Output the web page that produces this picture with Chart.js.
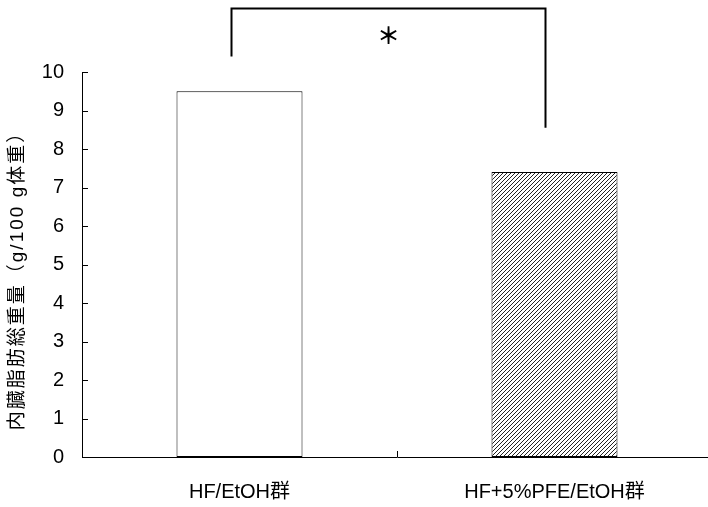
<!DOCTYPE html>
<html>
<head>
<meta charset="utf-8">
<script src="https://cdn.jsdelivr.net/npm/chart.js@4.4.1/dist/chart.umd.min.js"></script>
<style>
  html, body { margin: 0; padding: 0; background: #fff; overflow: hidden; }
  canvas { display: block; }
</style>
</head>
<body>
<canvas id="fatChart" width="712" height="507"></canvas>
<script>
const groups = ['HF/EtOH群', 'HF+5%PFE/EtOH群'];
const fatWeight = [9.5, 7.4];
const yTicks = [0, 1, 2, 3, 4, 5, 6, 7, 8, 9, 10];
const yTitle = '内臓脂肪総重量（g/100 g体重）';
const sigMark = '＊';

const latinFont = '"Liberation Sans", Arial, "Noto Sans CJK JP", sans-serif';

function makeHatch() {
  const c = document.createElement('canvas');
  c.width = 4;
  c.height = 4;
  const g = c.getContext('2d');
  g.fillStyle = '#fff';
  g.fillRect(0, 0, 4, 4);
  g.strokeStyle = '#222';
  g.lineWidth = 1;
  g.beginPath();
  g.moveTo(-1, 1); g.lineTo(1, -1);
  g.moveTo(0, 4); g.lineTo(4, 0);
  g.moveTo(3, 5); g.lineTo(5, 3);
  g.stroke();
  return g.createPattern(c, 'repeat');
}

const ctx = document.getElementById('fatChart').getContext('2d');
const hatch = makeHatch();

// ticks drawn inside the plot, spaced title, significance bracket
const extras = {
  id: 'extras',
  afterDraw(chart) {
    const c = chart.ctx;
    const x = chart.scales.x;
    const y = chart.scales.y;
    const area = chart.chartArea;
    c.save();
    c.strokeStyle = '#000';
    c.lineWidth = 1;
    c.beginPath();
    yTicks.forEach(v => {
      const py = Math.round(y.getPixelForValue(v)) + 0.5;
      c.moveTo(area.left, py);
      c.lineTo(area.left + 6, py);
    });
    const mid = Math.round((x.getPixelForValue(0) + x.getPixelForValue(1)) / 2) + 0.5;
    c.moveTo(mid, area.bottom);
    c.lineTo(mid, area.bottom - 6);
    c.stroke();

    // bracket
    const lx = x.getPixelForValue(0) - 8;
    const rx = x.getPixelForValue(1) - 9;
    c.lineWidth = 2;
    c.beginPath();
    c.moveTo(lx, y.getPixelForValue(10.4));
    c.lineTo(lx, y.getPixelForValue(11.65));
    c.lineTo(rx, y.getPixelForValue(11.65));
    c.lineTo(rx, y.getPixelForValue(8.55));
    c.stroke();

    c.fillStyle = '#000';
    c.font = 'bold 23px "Noto Sans CJK JP"';
    c.textAlign = 'center';
    c.textBaseline = 'middle';
    c.fillText(sigMark, (lx + rx) / 2, y.getPixelForValue(10.96));

    // y title
    c.translate(18, 276);
    c.rotate(-Math.PI / 2);
    c.font = '19px ' + latinFont;
    c.letterSpacing = '2px';
    c.fillText(yTitle, 0, 0);
    c.restore();
  }
};

new Chart(ctx, {
  type: 'bar',
  data: {
    labels: groups,
    datasets: [{
      data: fatWeight,
      backgroundColor: ['#ffffff', hatch],
      borderColor: '#000',
      borderWidth: 1,
      borderSkipped: false,
      barPercentage: 0.4,
      categoryPercentage: 1
    }]
  },
  options: {
    responsive: false,
    animation: false,
    layout: { padding: { top: 72, left: 0, right: 0, bottom: 0 } },
    plugins: { legend: { display: false }, tooltip: { enabled: false } },
    scales: {
      x: {
        offset: true,
        grid: { display: false, drawTicks: false },
        border: { display: true, color: '#000', width: 1 },
        ticks: { color: '#000', padding: 23, font: { family: latinFont, size: 20 } },
        afterFit: s => { s.height = 50; }
      },
      y: {
        min: 0,
        max: 10,
        afterBuildTicks: s => { s.ticks = yTicks.map(v => ({ value: v })); },
        grid: { display: false, drawTicks: false },
        border: { display: true, color: '#000', width: 1 },
        ticks: { color: '#000', padding: 18, font: { family: latinFont, size: 20 } },
        afterFit: s => { s.width = 82; }
      }
    }
  },
  plugins: [extras]
});
</script>
</body>
</html>
